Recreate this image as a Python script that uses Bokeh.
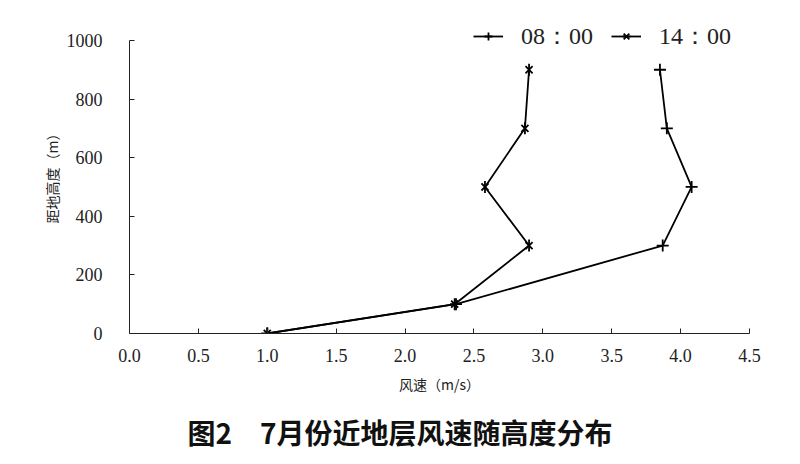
import math
from bokeh.plotting import figure
from bokeh.models import Range1d, FixedTicker, PrintfTickFormatter, Legend, LegendItem, Title
from bokeh.embed import file_html
from bokeh.resources import INLINE

# data
heights = [0, 100, 300, 500, 700, 900]
speed_08 = [1.0, 2.37, 3.87, 4.08, 3.90, 3.85]
speed_14 = [1.0, 2.36, 2.90, 2.58, 2.87, 2.90]
series_names = ["08：00", "14：00"]
x_ticks = [0.0, 0.5, 1.0, 1.5, 2.0, 2.5, 3.0, 3.5, 4.0, 4.5]
y_ticks = [0, 200, 400, 600, 800, 1000]
x_label = "风速（m/s）"
y_label = "距地高度（m）"
caption = "图2　7月份近地层风速随高度分布"

# frame: bottom at 334, 1000 m at 40 -> 294 px per 1000 m; frame top at 16
y_top = 1000 * 318 / 294

p = figure(width=800, height=464, output_backend="svg", toolbar_location=None,
           x_range=Range1d(0, 4.5), y_range=Range1d(0, y_top),
           min_border_left=129, min_border_right=51, min_border_top=16, min_border_bottom=130)
p.outline_line_color = None
p.xgrid.visible = False
p.ygrid.visible = False
p.background_fill_color = "white"
p.border_fill_color = "white"

tick_font = "Liberation Serif"
cjk = "Noto Sans CJK SC"

p.xaxis.ticker = FixedTicker(ticks=x_ticks)
p.xaxis.formatter = PrintfTickFormatter(format="%.1f")
p.yaxis.ticker = FixedTicker(ticks=y_ticks)
p.yaxis.bounds = (0, 1000)
for ax in (p.xaxis, p.yaxis):
    ax.axis_line_color = "#222222"
    ax.axis_line_width = 1
    ax.major_tick_line_color = "#222222"
    ax.major_tick_in = 5
    ax.major_tick_out = 0
    ax.minor_tick_line_color = None
    ax.major_label_text_font = tick_font
    ax.major_label_text_font_size = "18px"
    ax.major_label_text_color = "#222222"
    ax.axis_label_text_font = cjk
    ax.axis_label_text_font_size = "14px"
    ax.axis_label_text_font_style = "normal"
    ax.axis_label_text_color = "#222222"

p.xaxis.axis_label = x_label
p.yaxis.axis_label = y_label
p.xaxis.major_label_standoff = 15
p.xaxis.axis_label_standoff = 9
p.yaxis.major_label_standoff = 27
p.yaxis.axis_label_standoff = 2

r1 = p.line(speed_08, heights, line_color="black", line_width=1.8)
m1 = p.scatter(speed_08, heights, marker="cross", size=12, line_color="black", line_width=1.8)
r2 = p.line(speed_14, heights, line_color="black", line_width=1.8)
m2a = p.scatter(speed_14, heights, marker="x", size=10, line_color="black", line_width=1.8)
m2b = p.scatter(speed_14, heights, marker="dash", size=12, angle=math.pi / 2,
                line_color="black", line_width=1.8)

legend = Legend(items=[LegendItem(label=series_names[0], renderers=[r1, m1]),
                       LegendItem(label=series_names[1], renderers=[r2, m2a, m2b])],
                orientation="horizontal", location=(344, 281),
                label_text_font="Liberation Serif", label_text_font_size="24px",
                label_text_color="#222222",
                glyph_width=30, glyph_height=20, spacing=18, padding=2, margin=0,
                label_standoff=18, border_line_color=None, background_fill_alpha=0)
p.add_layout(legend, "center")

t = Title(text=caption, align="left", text_font=cjk, text_font_size="28px",
          text_font_style="bold", text_color="#111111", standoff=26, offset=58,
          text_line_height=1.0)
p.add_layout(t, "below")

open("out.html", "w").write(file_html(p, INLINE))
